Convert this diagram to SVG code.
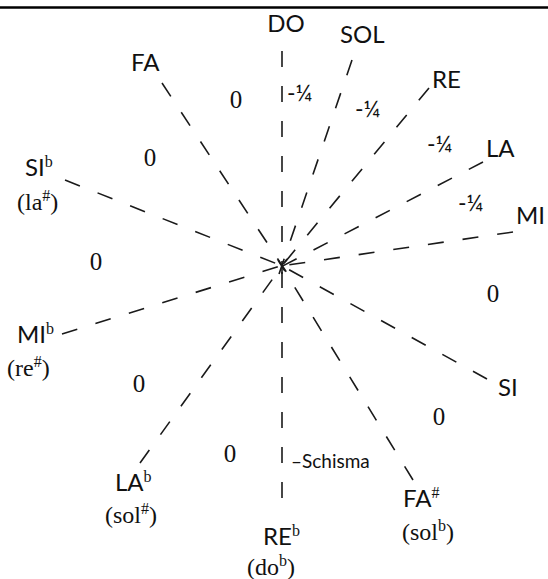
<svg xmlns="http://www.w3.org/2000/svg" width="548" height="579" viewBox="0 0 548 579">
<style>
.ray{stroke:#1a1a1a;stroke-width:1.6;stroke-dasharray:16 19;fill:none}
.lab{font-family:Lato,"Open Sans",sans-serif;font-size:24px;fill:#111}
.ser{font-family:"Liberation Serif","Times New Roman",serif;font-size:24px;fill:#111}
.zero{font-family:"Liberation Serif","Times New Roman",serif;font-size:25px;fill:#111;text-anchor:middle}
.q{font-family:Lato,"Open Sans",sans-serif;font-size:23px;fill:#111}
.s{font-family:Lato,"Open Sans",sans-serif;font-size:19px;fill:#111}
.sup{font-family:"Liberation Serif","Times New Roman",serif;font-size:16px}
</style>
<rect width="548" height="579" fill="#fff"/>
<line x1="0" y1="7.5" x2="548" y2="7.5" stroke="#000" stroke-width="2.5"/>
<g id="connectors">
<path class="ray" d="M282,51 L282,274"/>
<path class="ray" d="M352,60 L279,274"/>
<path class="ray" d="M429,88 L276,273"/>
<path class="ray" d="M483,162 L275,270"/>
<path class="ray" d="M513,232 L274,267"/>
<path class="ray" d="M487,379 L275,262"/>
<path class="ray" d="M413,480 L278,260"/>
<path class="ray" d="M282,498 L282,258"/>
<path class="ray" d="M140,463 L287,259"/>
<path class="ray" d="M62,334 L290,263"/>
<path class="ray" d="M65,180 L290,269"/>
<path class="ray" d="M162,83 L287,273"/>
</g>
<g id="n-do"><text class="lab" x="286" y="32" text-anchor="middle">DO</text></g>
<g id="n-sol"><text class="lab" x="340" y="43">SOL</text></g>
<g id="n-re"><text class="lab" x="432" y="88">RE</text></g>
<g id="n-la"><text class="lab" x="486" y="157">LA</text></g>
<g id="n-mi"><text class="lab" x="516" y="224">MI</text></g>
<g id="n-si"><text class="lab" x="498" y="396">SI</text></g>
<g id="n-fas"><text class="lab" x="403" y="507">FA<tspan class="sup" dy="-9">#</tspan></text><text class="ser" x="402" y="540">(sol<tspan class="sup" dy="-9">b</tspan><tspan dy="9">)</tspan></text></g>
<g id="n-reb"><text class="lab" x="263" y="545">RE<tspan class="sup" dy="-9">b</tspan></text><text class="ser" x="247" y="575">(do<tspan class="sup" dy="-9">b</tspan><tspan dy="9">)</tspan></text></g>
<g id="n-lab"><text class="lab" x="115" y="491">LA<tspan class="sup" dy="-9">b</tspan></text><text class="ser" x="105" y="523">(sol<tspan class="sup" dy="-9">#</tspan><tspan dy="9">)</tspan></text></g>
<g id="n-mib"><text class="lab" x="17" y="343">MI<tspan class="sup" dy="-9">b</tspan></text><text class="ser" x="7" y="376">(re<tspan class="sup" dy="-9">#</tspan><tspan dy="9">)</tspan></text></g>
<g id="n-sib"><text class="lab" x="25" y="176">SI<tspan class="sup" dy="-9">b</tspan></text><text class="ser" x="17" y="210">(la<tspan class="sup" dy="-9">#</tspan><tspan dy="9">)</tspan></text></g>
<g id="n-fa"><text class="lab" x="131" y="71">FA</text></g>
<g id="labels">
<text class="zero" x="236" y="108">0</text>
<text class="zero" x="150" y="166">0</text>
<text class="zero" x="96" y="270">0</text>
<text class="zero" x="139" y="392">0</text>
<text class="zero" x="230" y="462">0</text>
<text class="zero" x="439" y="425">0</text>
<text class="zero" x="493" y="302">0</text>
<text class="q" x="287" y="101">-¼</text>
<text class="q" x="355" y="117">-¼</text>
<text class="q" x="427" y="152">-¼</text>
<text class="q" x="458" y="211">-¼</text>
<text class="s" x="291" y="468">–Schisma</text>
</g>
</svg>
